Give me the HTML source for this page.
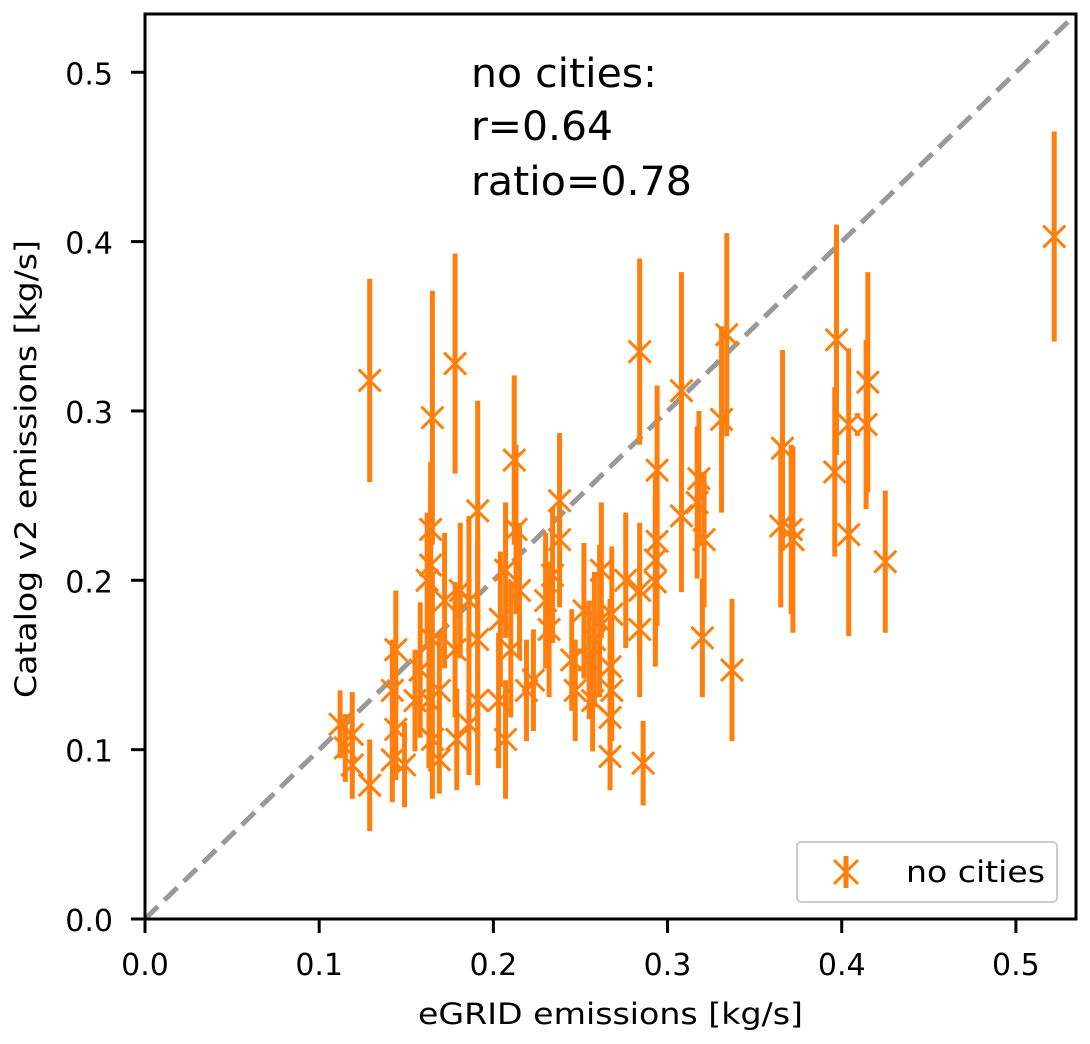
<!DOCTYPE html>
<html><head><meta charset="utf-8">
<style>
body{margin:0;background:#fff;}
svg{display:block;font-family:"DejaVu Sans","Liberation Sans",sans-serif;}
</style></head>
<body>
<svg id="chart" width="1090" height="1044" viewBox="0 0 1090 1044">
<rect x="0" y="0" width="1090" height="1044" fill="#fff"/>
<g id="marks"></g>
<rect x="145" y="14" width="931" height="905" fill="none" stroke="#000" stroke-width="3"/>
<g id="axes"></g>
<g font-size="40" fill="#000">
<text x="471" y="87" textLength="186" lengthAdjust="spacingAndGlyphs">no cities:</text>
<text x="471" y="140" textLength="142" lengthAdjust="spacingAndGlyphs">r=0.64</text>
<text x="471" y="195" textLength="221" lengthAdjust="spacingAndGlyphs">ratio=0.78</text>
</g>
<text x="418" y="1024" font-size="29" textLength="385" lengthAdjust="spacingAndGlyphs">eGRID emissions [kg/s]</text>
<text transform="translate(36,698) rotate(-90)" font-size="29" textLength="458" lengthAdjust="spacingAndGlyphs">Catalog v2 emissions [kg/s]</text>
<g>
<rect x="797" y="842" width="260" height="60" rx="4" fill="#fff" stroke="#ccc" stroke-width="2"/>
<line x1="846" y1="856" x2="846" y2="888" stroke="#ff7f0e" stroke-width="5"/>
<path d="M834 860 L858 884 M858 860 L834 884" stroke="#ff7f0e" stroke-width="3"/>
<text x="906" y="882" font-size="29" textLength="139" lengthAdjust="spacingAndGlyphs">no cities</text>
</g>
</svg>
<script>
const xVals=[.522,.129,.178,.165,.284,.308,.334,.331,.397,.396,.404,.415,.414,.404,.425,.366,.365,.371,.372,.337,.320,.318,.317,.321,.308,.294,.294,.293,.293,.284,.286,.284,.267,.267,.268,.267,.276,.262,.261,.258,.252,.247,.238,.234,.230,.232,.238,.245,.212,.213,.215,.207,.204,.210,.203,.207,.219,.191,.186,.191,.191,.181,.178,.179,.172,.169,.164,.164,.162,.165,.163,.165,.158,.155,.144,.142,.144,.149,.142,.129,.119,.112,.115,.119,.169,.268,.255,.223,.257,.186];
const yVals=[.403,.318,.328,.296,.335,.312,.345,.295,.342,.264,.292,.317,.292,.227,.211,.278,.232,.230,.224,.147,.166,.260,.246,.224,.238,.223,.265,.212,.199,.171,.092,.194,.119,.096,.135,.149,.200,.206,.176,.165,.182,.135,.247,.203,.188,.171,.224,.153,.271,.230,.194,.206,.177,.159,.129,.106,.135,.241,.188,.165,.129,.194,.159,.106,.188,.135,.230,.209,.200,.165,.129,.106,.147,.129,.159,.135,.112,.091,.094,.079,.109,.115,.101,.091,.094,.180,.153,.141,.129,.115];
const yErr=[.062,.06,.065,.075,.055,.07,.06,.055,.068,.05,.045,.065,.05,.06,.042,.058,.048,.05,.055,.042,.035,.04,.045,.04,.045,.05,.05,.05,.05,.04,.025,.04,.03,.02,.03,.04,.04,.04,.045,.04,.04,.03,.04,.04,.04,.04,.04,.03,.05,.05,.04,.04,.04,.04,.04,.035,.03,.065,.05,.06,.05,.04,.04,.03,.04,.035,.04,.045,.04,.04,.04,.035,.04,.03,.035,.03,.03,.025,.025,.027,.025,.02,.02,.02,.02,.04,.035,.03,.03,.03];
const xTicks=[0,0.1,0.2,0.3,0.4,0.5];
const yTicks=[0,0.1,0.2,0.3,0.4,0.5];
const tickLabels=["0.0","0.1","0.2","0.3","0.4","0.5"];
const NS="http://www.w3.org/2000/svg";
const L=145,R=1076,T=14,B=919,XMAX=0.5345,YMAX=0.5344;
function sx(v){return L+v/XMAX*(R-L);}
function sy(v){return B-v/YMAX*(B-T);}
function mk(tag,attrs,parent){const e=document.createElementNS(NS,tag);for(const k in attrs)e.setAttribute(k,attrs[k]);parent.appendChild(e);return e;}
const axes=document.getElementById('axes');
xTicks.forEach((t,i)=>{
 const l=mk('line',{x1:sx(t),x2:sx(t),y1:B,y2:B+14,stroke:'#000','stroke-width':3},axes);
 
 
 const tx=mk('text',{x:sx(t),y:975,'text-anchor':'middle','font-size':30},axes);
 tx.textContent=tickLabels[i];
 
 
});
yTicks.forEach((t,i)=>{
 const l=mk('line',{x1:L-14,x2:L,y1:sy(t),y2:sy(t),stroke:'#000','stroke-width':3},axes);
 
 
 const tx=mk('text',{x:113,y:sy(t)+12,'text-anchor':'end','font-size':30},axes);
 tx.textContent=tickLabels[i];
 
 
});
const g=document.getElementById('marks');
const diag=mk('line',{x1:sx(0),y1:sy(0),x2:sx(XMAX),y2:sy(YMAX),stroke:'#999','stroke-width':5,'stroke-dasharray':'18,9'},g);


xVals.forEach((x,i)=>{
 const y=yVals[i],e=yErr[i];
 const eb=mk('line',{x1:sx(x),x2:sx(x),y1:sy(y-e),y2:sy(y+e),stroke:'#ff7f0e','stroke-width':5},g);
 
 
});
xVals.forEach((x,i)=>{
 const cx=sx(x),cy=sy(yVals[i]),s=11;
 const p=mk('path',{d:`M${cx-s} ${cy-s} L${cx+s} ${cy+s} M${cx+s} ${cy-s} L${cx-s} ${cy+s}`,stroke:'#ff7f0e','stroke-width':3},g);
 
 
});
</script>
</body></html>
